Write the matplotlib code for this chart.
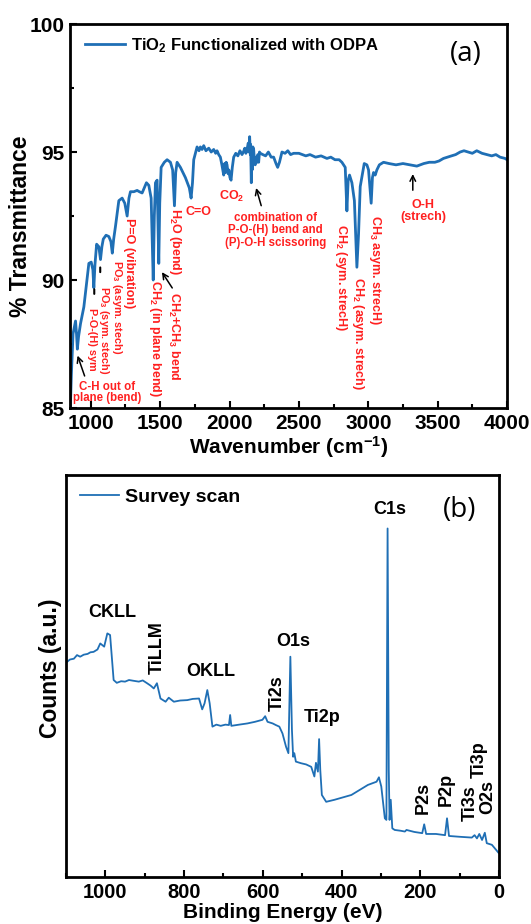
import matplotlib
matplotlib.use("Agg")
import matplotlib.pyplot as plt
from matplotlib.ticker import MultipleLocator

plt.rcParams['font.family'] = ['Liberation Sans', 'DejaVu Sans']
plt.rcParams['font.weight'] = 'bold'
plt.rcParams['mathtext.fontset'] = 'custom'
plt.rcParams['mathtext.rm'] = 'Liberation Sans:bold'
plt.rcParams['mathtext.bf'] = 'Liberation Sans:bold'
plt.rcParams['mathtext.default'] = 'rm'

BLUE = '#1f6fb5'
RED = '#ff2020'

# ---------------- FTIR data (panel a) ----------------
ftir_wn = [852, 860, 872, 890, 897, 903, 912, 926, 950, 970,
           986, 1003, 1015, 1022, 1030, 1042, 1058, 1070, 1080, 1090,
           1110, 1130, 1145, 1155, 1165, 1178, 1202, 1226, 1245, 1262,
           1275, 1286, 1310, 1334, 1350, 1370, 1401, 1418, 1435, 1450,
           1458, 1466, 1478, 1490, 1497, 1507, 1530, 1550, 1574, 1590,
           1603, 1612, 1622, 1646, 1682, 1710, 1723, 1733, 1742, 1766,
           1780, 1790, 1802, 1814, 1830, 1850, 1868, 1886, 1900, 1910,
           1922, 1934, 1945, 1958, 1965, 1970, 1976, 1982, 1990, 1995,
           2003, 2011, 2020, 2030, 2045, 2060, 2075, 2090, 2100, 2110,
           2118, 2126, 2135, 2140, 2145, 2150, 2152, 2157, 2160, 2163,
           2168, 2174, 2180, 2185, 2190, 2198, 2204, 2210, 2216, 2222,
           2240, 2260, 2280, 2300, 2318, 2335, 2347, 2360, 2378, 2400,
           2420, 2440, 2462, 2500, 2550, 2580, 2620, 2660, 2702, 2730,
           2760, 2790, 2810, 2834, 2846, 2855, 2865, 2882, 2900, 2918,
           2930, 2942, 2971, 2990, 3002, 3021, 3030, 3038, 3050, 3062,
           3080, 3110, 3150, 3200, 3250, 3302, 3350, 3400, 3440, 3480,
           3510, 3542, 3570, 3600, 3630, 3662, 3690, 3720, 3750, 3782,
           3820, 3854, 3890, 3920, 3950, 3986, 4000]
ftir_t = [84.9, 86.3, 87.9, 88.4, 87.9, 87.3, 87.8, 88.3, 88.95, 89.9,
          90.65, 90.7, 90.4, 89.7, 90.6, 91.4, 91.3, 90.8, 91.3, 91.6,
          91.75, 91.7, 91.5, 91.05, 91.6, 92.1, 93.1, 93.2, 93.0, 92.5,
          93.2, 93.45, 93.45, 93.5, 93.45, 93.4, 93.8, 93.7, 93.2, 90.0,
          92.5, 93.8, 93.9, 90.65, 93.0, 94.4, 94.6, 94.7, 94.6, 94.3,
          92.9, 94.2, 94.6, 94.4, 94.0, 93.6, 93.2, 93.8, 94.7, 95.2,
          95.05, 95.2, 95.1, 95.25, 95.05, 95.15, 95.0, 95.1, 94.95, 95.05,
          94.9, 94.8, 94.5, 94.1, 94.55, 94.2, 94.6, 94.5, 94.15, 94.3,
          94.0, 93.9, 94.4, 94.8, 94.95, 94.85, 95.05, 94.9, 95.0, 95.15,
          94.95, 95.1, 95.35, 95.0, 95.6, 94.9, 95.3, 93.8, 94.9, 94.3,
          95.2, 95.1, 94.6, 94.5, 94.8, 94.6, 94.9, 94.6, 95.0, 94.95,
          94.9, 94.85, 95.0, 94.8, 94.8, 94.55, 94.4, 94.6, 95.0, 94.95,
          95.05, 94.9, 94.95, 94.95, 94.85, 94.9, 94.8, 94.85, 94.75, 94.8,
          94.7, 94.7, 94.6, 94.4, 92.7, 93.9, 94.1, 93.8, 93.1, 90.5,
          91.8, 93.65, 94.55, 94.5, 94.3, 93.0, 94.0, 94.2, 94.1, 94.3,
          94.5, 94.6, 94.55, 94.5, 94.55, 94.5, 94.45, 94.55, 94.6, 94.6,
          94.65, 94.75, 94.8, 94.85, 94.9, 95.0, 95.05, 95.0, 94.95, 95.05,
          94.95, 94.9, 94.85, 94.9, 94.8, 94.75, 94.7]

# ---------------- XPS data (panel b) ----------------
xps_be = [1100, 1090, 1080, 1072, 1064, 1055, 1045, 1038, 1030, 1020,
          1013, 1003, 995, 988, 979, 971, 960, 950, 940, 928,
          915, 905, 894, 885, 877, 869, 860, 847, 839, 826,
          810, 792, 778, 762, 754, 748, 741, 735, 728, 718,
          707, 695, 686, 683, 680, 660, 639, 620, 601, 594,
          588, 575, 567, 558, 550, 541, 535, 530, 526, 523,
          520, 516, 503, 490, 477, 469, 465, 460, 457, 454,
          450, 439, 418, 375, 333, 311, 305, 299, 290, 286,
          283, 280, 278, 275, 271, 265, 250, 239, 235, 215,
          195, 190, 185, 160, 137, 132, 127, 100, 69, 62,
          56, 50, 43, 36, 31, 18, 1]
xps_counts = [53.3, 54.1, 54.3, 55.2, 54.8, 55.3, 55.5, 55.9, 56.0, 56.6,
              58.1, 57.3, 60.6, 60.2, 49.0, 48.3, 48.7, 48.6, 49.0, 48.8,
              48.6, 48.9, 48.2, 47.6, 46.9, 48.2, 44.4, 43.6, 44.6, 43.6,
              43.9, 44.0, 44.3, 44.4, 41.7, 43.2, 46.5, 43.2, 37.4, 37.9,
              37.6, 37.9, 37.8, 40.3, 37.6, 37.9, 38.2, 38.6, 39.1, 40.0,
              38.6, 38.2, 37.8, 37.4, 35.7, 32.4, 30.8, 54.8, 36.6, 29.9,
              30.8, 28.7, 28.3, 28.0, 27.4, 25.0, 28.4, 26.2, 34.3, 26.6,
              20.4, 18.7, 19.2, 20.4, 22.9, 23.7, 24.8, 22.5, 14.6, 14.2,
              86.7, 26.6, 14.2, 19.2, 12.1, 11.7, 11.5, 11.3, 11.7, 11.2,
              10.9, 13.1, 10.7, 10.7, 10.4, 14.6, 10.2, 10.0, 9.8, 10.4,
              9.6, 10.7, 9.2, 11.0, 8.4, 8.0, 6.0]

fig = plt.figure(figsize=(5.31, 9.24), dpi=100)
axa = fig.add_axes([0.1318, 0.5584, 0.823, 0.4156])
axb = fig.add_axes([0.1243, 0.0509, 0.8154, 0.435])

# ---------------- Panel (a) ----------------
axa.plot(ftir_wn, ftir_t, color=BLUE, lw=2.0, label='TiO$_2$ Functionalized with ODPA')
axa.set_xlim(850, 4000)
axa.set_ylim(85, 100)
axa.xaxis.set_major_locator(MultipleLocator(500))
axa.xaxis.set_minor_locator(MultipleLocator(250))
axa.yaxis.set_major_locator(MultipleLocator(5))
axa.yaxis.set_minor_locator(MultipleLocator(2.5))
axa.set_xlabel('Wavenumber (cm$^{-1}$)', fontsize=15, fontweight='bold', labelpad=1)
axa.set_ylabel('% Transmittance', fontsize=16.5, fontweight='bold')
axa.yaxis.set_label_coords(-0.087, 0.474)
axa.legend(loc='upper left', bbox_to_anchor=(0.035, 0.968), frameon=False, fontsize=12,
           handlelength=2.4, handletextpad=0.35, borderaxespad=0, borderpad=0)
axa.text(0.906, 0.922, '(a)', transform=axa.transAxes, fontsize=20, fontweight='normal',
         family='Open Sans', ha='center', va='center')

tk = dict(color=RED, fontsize=9, fontweight='bold')
tks = dict(color=RED, fontsize=8.3, fontweight='bold')
tkx = dict(color=RED, fontsize=7.8, fontweight='bold')
axa.text(1118, 85.6, 'C-H out of\nplane (bend)', ha='center', va='center', linespacing=0.95, **tks)
axa.annotate('', xy=(898, 87.15), xytext=(962, 86.15),
             arrowprops=dict(arrowstyle='->', color='black', lw=1.1))
axa.text(1008, 87.7, 'P-O-(H) sym', rotation=-90, ha='center', va='center', **tkx)
axa.text(1097, 88.05, 'PO$_3$ (sym. stech)', rotation=-90, ha='center', va='center', **tkx)
axa.annotate('', xy=(1025, 89.75), xytext=(1025, 89.35),
             arrowprops=dict(arrowstyle='-', color='black', lw=1.5))
axa.annotate('', xy=(1068, 90.6), xytext=(1068, 90.2),
             arrowprops=dict(arrowstyle='-', color='black', lw=1.5))
axa.text(1188, 88.95, 'PO$_3$ (asym. stech)', rotation=-90, ha='center', va='center', **tkx)
axa.text(1278, 90.65, 'P=O (vibration)', rotation=-90, ha='center', va='center', **tk)
axa.text(1461, 87.7, 'CH$_2$ (in plane bend)', rotation=-90, ha='center', va='center', **tk)
axa.text(1598, 87.8, 'CH$_2$+CH$_3$ bend', rotation=-90, ha='center', va='center', **tk)
axa.annotate('', xy=(1502, 90.4), xytext=(1598, 89.6),
             arrowprops=dict(arrowstyle='->', color='black', lw=1.1))
axa.text(1610, 91.5, 'H$_2$O (bend)', rotation=-90, ha='center', va='center', **tk)
axa.text(1778, 92.65, 'C=O', ha='center', va='center', **tk)
axa.text(2018, 93.25, 'CO$_2$', ha='center', va='center', **tk)
axa.text(2330, 91.95, 'combination of\nP-O-(H) bend and\n(P)-O-H scissoring', ha='center',
         va='center', linespacing=1.05, **tks)
axa.annotate('', xy=(2186, 93.7), xytext=(2234, 92.8),
             arrowprops=dict(arrowstyle='->', color='black', lw=1.1))
axa.text(2803, 90.1, 'CH$_2$ (sym. strecH)', rotation=-90, ha='center', va='center', **tk)
axa.text(2925, 87.9, 'CH$_2$ (asym. strech)', rotation=-90, ha='center', va='center', **tk)
axa.text(3050, 90.4, 'CH$_3$ asym. strecH)', rotation=-90, ha='center', va='center', **tk)
axa.text(3397, 92.7, 'O-H\n(strech)', ha='center', va='center', linespacing=1.0, **tk)
axa.annotate('', xy=(3321, 94.25), xytext=(3321, 93.4),
             arrowprops=dict(arrowstyle='->', color='black', lw=1.1))

# ---------------- Panel (b) ----------------
axb.plot(xps_be, xps_counts, color=BLUE, lw=1.3, label='Survey scan')
axb.set_xlim(1100, 0)
axb.set_ylim(0, 100)
axb.xaxis.set_major_locator(MultipleLocator(200))
axb.xaxis.set_minor_locator(MultipleLocator(100))
axb.set_yticks([])
axb.set_xlabel('Binding Energy (eV)', fontsize=15, fontweight='bold', labelpad=1)
axb.set_ylabel('Counts (a.u.)', fontsize=16.5, fontweight='bold')
axb.yaxis.set_label_coords(-0.009, 0.52)
axb.legend(loc='upper left', bbox_to_anchor=(0.032, 0.968), frameon=False, fontsize=14,
           handlelength=2.0, handletextpad=0.3, borderaxespad=0, borderpad=0)
axb.text(100, 91.3, '(b)', fontsize=20, fontweight='normal', family='Open Sans',
         ha='center', va='center')
pk = dict(color='black', fontsize=13, fontweight='bold', ha='center', va='center')
axb.text(982, 65.7, 'CKLL', **pk)
axb.text(868, 57.0, 'TiLLM', rotation=90, **pk)
axb.text(732, 51.0, 'OKLL', **pk)
axb.text(523, 58.7, 'O1s', **pk)
axb.text(564, 45.8, 'Ti2s', rotation=90, **pk)
axb.text(449, 39.6, 'Ti2p', **pk)
axb.text(278, 91.3, 'C1s', **pk)
axb.text(192, 19.6, 'P2s', rotation=90, **pk)
axb.text(133, 21.8, 'P2p', rotation=90, **pk)
axb.text(74, 18.4, 'Ti3s', rotation=90, **pk)
axb.text(51, 29.1, 'Ti3p', rotation=90, **pk)
axb.text(28, 19.9, 'O2s', rotation=90, **pk)

for ax in (axa, axb):
    for s in ax.spines.values():
        s.set_linewidth(2.0)
    ax.tick_params(which='both', direction='in', top=False, right=False, width=1.5)
    ax.tick_params(which='major', length=5, labelsize=15, pad=4)
    ax.tick_params(which='minor', length=3)
    for lab in ax.get_xticklabels() + ax.get_yticklabels():
        lab.set_fontweight('bold')
axb.tick_params(axis='x', labelsize=14.5)

fig.savefig('out.png', dpi=100)
